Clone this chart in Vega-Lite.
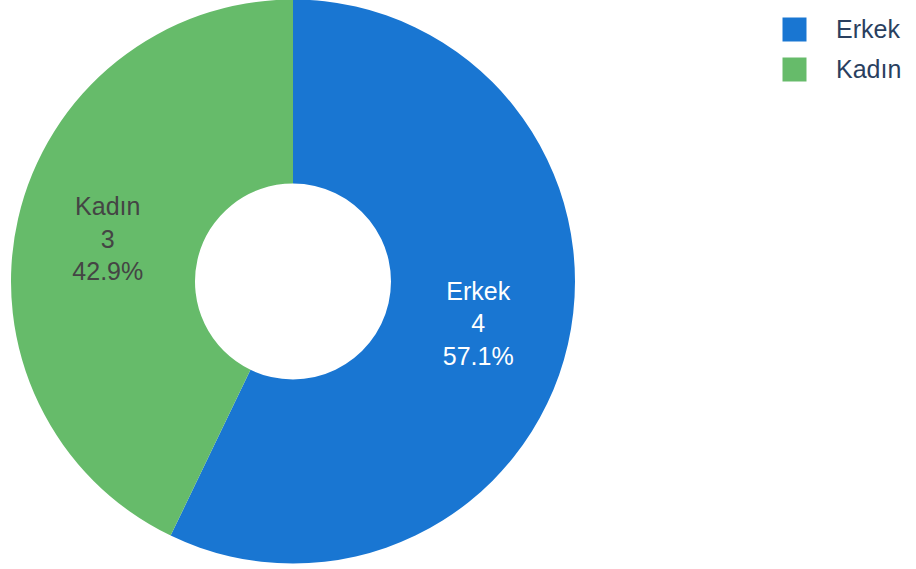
{
  "$schema": "https://vega.github.io/schema/vega-lite/v6.json",
  "autosize": "none",
  "width": 586,
  "height": 563,
  "padding": {"left": 0, "top": 0, "right": 330, "bottom": 6},
  "background": "white",
  "config": {"view": {"stroke": null}, "font": "Liberation Sans"},
  "data": {
    "values": [
      {"gender": "Erkek", "count": 4, "order": 1, "label": ["Erkek", "4", "57.1%"], "tcolor": "white"},
      {"gender": "Kadın", "count": 3, "order": 2, "label": ["Kadın", "3", "42.9%"], "tcolor": "dark"}
    ]
  },
  "encoding": {
    "theta": {"field": "count", "type": "quantitative", "stack": true},
    "order": {"field": "order", "type": "quantitative"}
  },
  "layer": [
    {
      "mark": {"type": "arc", "innerRadius": 98, "outerRadius": 282},
      "encoding": {
        "color": {
          "field": "gender",
          "type": "nominal",
          "scale": {"domain": ["Erkek", "Kadın"], "range": ["#1976D2", "#66BB6A"]},
          "legend": {
            "title": null,
            "orient": "none",
            "legendX": 782,
            "legendY": 17,
            "symbolType": "square",
            "symbolSize": 576,
            "symbolStrokeWidth": 0,
            "symbolOpacity": 1,
            "labelFontSize": 25,
            "labelColor": "#2a3f5f",
            "labelFont": "Liberation Sans",
            "labelOffset": 29,
            "rowPadding": 14,
            "labelLimit": 200
          }
        }
      }
    },
    {
      "mark": {"type": "text", "radius": 190, "fontSize": 25, "lineHeight": 32.5, "baseline": "middle", "align": "center", "dy": -32},
      "encoding": {
        "text": {"field": "label"},
        "color": {
          "field": "tcolor",
          "type": "nominal",
          "scale": {"domain": ["white", "dark"], "range": ["#ffffff", "#444444"]},
          "legend": null
        }
      }
    }
  ],
  "resolve": {"scale": {"color": "independent"}}
}
